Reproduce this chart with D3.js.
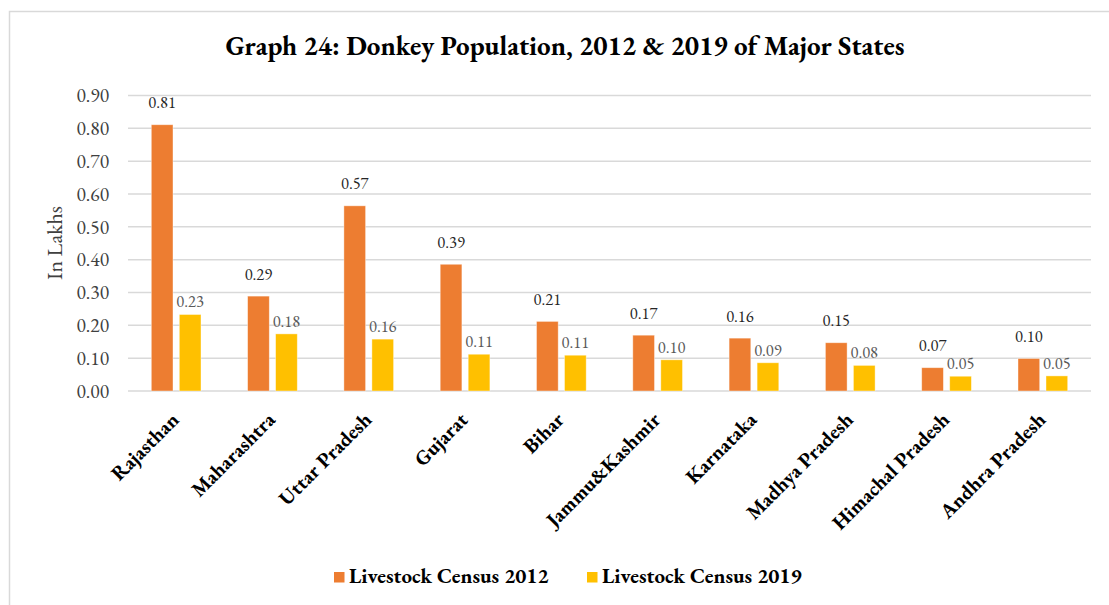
<!DOCTYPE html>
<html>
<head>
<meta charset="utf-8">
<script src="https://cdn.jsdelivr.net/npm/d3@7"></script>
<style>
  html, body { margin: 0; padding: 0; background: #fff; }
  svg { display: block; }
  text { font-family: "EB Garamond", Garamond, "Liberation Serif", "DejaVu Serif", serif; }
</style>
</head>
<body>
<svg id="chart" width="1109" height="605"></svg>
<script>
const categories = ["Rajasthan", "Maharashtra", "Uttar Pradesh", "Gujarat", "Bihar",
  "Jammu&Kashmir", "Karnataka", "Madhya Pradesh", "Himachal Pradesh", "Andhra Pradesh"];
const census2012 = [0.811, 0.289, 0.564, 0.386, 0.212, 0.170, 0.161, 0.147, 0.071, 0.099];
const census2019 = [0.233, 0.174, 0.158, 0.112, 0.109, 0.095, 0.086, 0.078, 0.045, 0.046];
const labels2012 = ["0.81", "0.29", "0.57", "0.39", "0.21", "0.17", "0.16", "0.15", "0.07", "0.10"];
const labels2019 = ["0.23", "0.18", "0.16", "0.11", "0.11", "0.10", "0.09", "0.08", "0.05", "0.05"];
const seriesNames = ["Livestock Census 2012", "Livestock Census 2019"];
const yTicks = [0, 0.1, 0.2, 0.3, 0.4, 0.5, 0.6, 0.7, 0.8, 0.9];
const title = "Graph 24: Donkey Population, 2012 & 2019 of Major States";
const yTitle = "In Lakhs";

const colors = ["#ED7D31", "#FFC000"];
const labelColors = ["#262626", "#595959"];

const svg = d3.select("#chart");

// chart area border
svg.append("rect")
  .attr("x", 9.5).attr("y", 11.5)
  .attr("width", 1120).attr("height", 620)
  .attr("fill", "#fff").attr("stroke", "#d9d9d9").attr("stroke-width", 1.5);

const plot = { left: 128, right: 1091, top: 95.5, bottom: 391 };

const y = d3.scaleLinear().domain([0, 0.9]).range([plot.bottom, plot.top]);
const x0 = d3.scaleBand().domain(categories).range([plot.left, plot.right]).padding(0);
const clusterW = 49.7;
const x1 = d3.scaleBand().domain([0, 1]).range([0, clusterW]).paddingInner(0.225).paddingOuter(0);
const clusterOffset = (x0.bandwidth() - clusterW) / 2;

// gridlines
svg.append("g")
  .selectAll("line")
  .data(yTicks)
  .join("line")
  .attr("x1", plot.left).attr("x2", plot.right)
  .attr("y1", d => y(d)).attr("y2", d => y(d))
  .attr("stroke", "#d9d9d9").attr("stroke-width", 1.5);

// y axis labels
const yAxis = d3.axisLeft(y).tickValues(yTicks).tickFormat(d3.format(".2f")).tickSize(0).tickPadding(0);
const gy = svg.append("g").attr("transform", `translate(109,0)`).call(yAxis);
gy.select(".domain").remove();
gy.selectAll("text")
  .attr("font-size", 19.5).attr("fill", "#404040")
  .style("font-family", '"EB Garamond", Garamond, "Liberation Serif", serif');

// y title
svg.append("text")
  .attr("transform", `translate(62,243) rotate(-90)`)
  .attr("text-anchor", "middle")
  .attr("font-size", 22).attr("fill", "#404040")
  .text(yTitle);

// title
svg.append("text")
  .attr("x", 565).attr("y", 55)
  .attr("text-anchor", "middle")
  .attr("font-size", 27).attr("font-weight", "bold").attr("fill", "#000")
  .text(title);

// bars
const series = [census2012, census2019];
const seriesLabels = [labels2012, labels2019];
const labelOffsets = [16.5, 7];

series.forEach((vals, s) => {
  const g = svg.append("g");
  g.selectAll("rect")
    .data(categories)
    .join("rect")
    .attr("x", (c) => x0(c) + clusterOffset + x1(s))
    .attr("width", x1.bandwidth())
    .attr("y", (c, i) => y(vals[i]))
    .attr("height", (c, i) => y(0) - y(vals[i]))
    .attr("fill", colors[s])
    .attr("stroke", "#fff").attr("stroke-opacity", 0.5).attr("stroke-width", 0.8);
  g.selectAll("text")
    .data(categories)
    .join("text")
    .attr("x", (c) => x0(c) + clusterOffset + x1(s) + x1.bandwidth() / 2)
    .attr("y", (c, i) => y(vals[i]) - labelOffsets[s])
    .attr("text-anchor", "middle")
    .attr("font-size", 16.5).attr("fill", labelColors[s])
    .text((c, i) => seriesLabels[s][i]);
});

// x labels
svg.append("g")
  .selectAll("text")
  .data(categories)
  .join("text")
  .attr("transform", c => `translate(${x0(c) + x0.bandwidth() / 2 + 4},421) rotate(-45)`)
  .attr("text-anchor", "end")
  .attr("font-size", 20.5).attr("font-weight", "bold").attr("fill", "#000")
  .text(c => c);

// legend
const legend = svg.append("g");
const legendX = [334, 587];
seriesNames.forEach((name, s) => {
  legend.append("rect")
    .attr("x", legendX[s]).attr("y", 572)
    .attr("width", 10.5).attr("height", 10.5)
    .attr("fill", colors[s]);
  legend.append("text")
    .attr("x", legendX[s] + 15).attr("y", 583)
    .attr("font-size", 21).attr("font-weight", "bold").attr("fill", "#000")
    .text(name);
});
</script>
</body>
</html>
